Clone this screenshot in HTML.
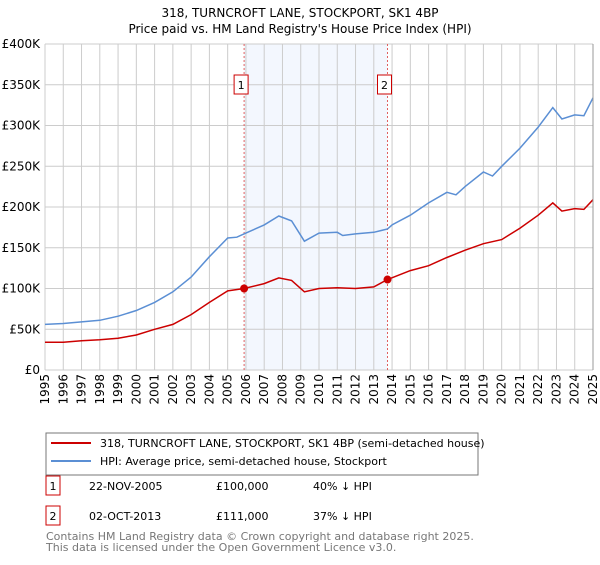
<!DOCTYPE html>
<html><head><meta charset="utf-8"><style>
body{margin:0;background:#fff;}
svg{font-family:"DejaVu Sans","Liberation Sans",sans-serif;}
</style></head><body>
<svg id="c" width="600" height="560" viewBox="0 0 600 560">
<text x="300" y="17" text-anchor="middle" font-size="12">318, TURNCROFT LANE, STOCKPORT, SK1 4BP</text>
<text x="300" y="33" text-anchor="middle" font-size="12">Price paid vs. HM Land Registry's House Price Index (HPI)</text>
<g id="plot"></g>
<g>
<rect x="46" y="433" width="432" height="42" fill="#fff" stroke="#777"/>
<line x1="51" y1="443" x2="91" y2="443" stroke="#cc0000" stroke-width="2"/>
<text x="100" y="447" font-size="11">318, TURNCROFT LANE, STOCKPORT, SK1 4BP (semi-detached house)</text>
<line x1="51" y1="461" x2="91" y2="461" stroke="#5b8fd4" stroke-width="2"/>
<text x="100" y="465" font-size="11">HPI: Average price, semi-detached house, Stockport</text>
</g>
<g font-size="11">
<rect x="46" y="476" width="14" height="19" fill="#fff" stroke="#cc0000"/>
<text x="53" y="490" text-anchor="middle">1</text>
<text x="89" y="490">22-NOV-2005</text><text x="216" y="490">£100,000</text><text x="313" y="490">40% ↓ HPI</text>
<rect x="46" y="506" width="14" height="19" fill="#fff" stroke="#cc0000"/>
<text x="53" y="520" text-anchor="middle">2</text>
<text x="89" y="520">02-OCT-2013</text><text x="216" y="520">£111,000</text><text x="313" y="520">37% ↓ HPI</text>
</g>
<text x="46" y="540" font-size="11" fill="#777">Contains HM Land Registry data © Crown copyright and database right 2025.</text>
<text x="46" y="551" font-size="11" fill="#777">This data is licensed under the Open Government Licence v3.0.</text>
</svg>
<script>
const hpiYears=[1995,1996,1997,1998,1999,2000,2001,2002,2003,2004,2005,2005.5,2006,2007,2007.8,2008.5,2009.2,2010,2011,2011.3,2012,2013,2013.75,2014,2015,2016,2017,2017.5,2018,2019,2019.5,2020,2021,2022,2022.8,2023.3,2024,2024.5,2025];
const hpiValues=[56,57,59,61,66,73,83,96,114,139,162,163,168,178,189,183,158,168,169,165,167,169,173,178,190,205,218,215,225,243,238,250,272,298,322,308,313,312,334];
const propYears=[1995,1996,1997,1998,1999,2000,2001,2002,2003,2004,2005,2005.9,2007,2007.8,2008.5,2009.2,2010,2011,2012,2013,2013.75,2015,2016,2017,2018,2019,2020,2021,2022,2022.8,2023.3,2024,2024.5,2025];
const propValues=[34,34,36,37,39,43,50,56,68,83,97,100,106,113,110,96,100,101,100,102,111,122,128,138,147,155,160,174,190,205,195,198,197,209];
const saleDates=[2005.9,2013.75];
const saleValues=[100,111];
const saleLabels=["1","2"];
const yTicks=[0,50,100,150,200,250,300,350,400];
const yTickLabels=["£0","£50K","£100K","£150K","£200K","£250K","£300K","£350K","£400K"];
const xTicks=[];for(let y=1995;y<=2025;y++)xTicks.push(y);
const X0=45,X1=593,Y0=370,Y1=44;
const xs=t=>X0+(t-1995)/30*(X1-X0);
const ys=v=>Y0-v/400*(Y0-Y1);
const NS="http://www.w3.org/2000/svg";
const g=document.getElementById('plot');
function mk(tag,attrs){const e=document.createElementNS(NS,tag);for(const k in attrs)e.setAttribute(k,attrs[k]);g.appendChild(e);return e;}
let e;
e=mk('rect',{x:xs(saleDates[0]),y:Y1,width:xs(saleDates[1])-xs(saleDates[0]),height:Y0-Y1,fill:'#eef3fd',opacity:0.7});


yTicks.forEach((v,i)=>{
 e=mk('line',{x1:X0,x2:X1,y1:ys(v),y2:ys(v),stroke:'#ccc'});
 
 
 e=mk('text',{x:X0-5,y:ys(v)+4,'text-anchor':'end','font-size':12});
 e.textContent=yTickLabels[i];
 
 
});
xTicks.forEach(t=>{
 e=mk('line',{x1:xs(t),x2:xs(t),y1:Y1,y2:Y0,stroke:'#ccc'});
 
 
 e=mk('text',{x:0,y:0,'text-anchor':'end','font-size':12,transform:`translate(${xs(t)+4},374) rotate(-90)`});
 e.textContent=t;
 
 
});
saleDates.forEach((d,i)=>{
 e=mk('line',{x1:xs(d),x2:xs(d),y1:Y1,y2:Y0,stroke:'#e06060','stroke-dasharray':'2,2'});
 
 
 e=mk('rect',{x:xs(d)-10,y:75,width:14,height:19,fill:'#fff',stroke:'#cc0000'});
 
 
 e=mk('text',{x:xs(d)-3,y:89,'text-anchor':'middle','font-size':11});
 e.textContent=saleLabels[i];
 
 
});
const path=(xa,va)=>xa.map((t,i)=>(i?'L':'M')+xs(t).toFixed(1)+','+ys(va[i]).toFixed(1)).join('');
e=mk('path',{d:path(hpiYears,hpiValues),fill:'none',stroke:'#5b8fd4','stroke-width':1.5});


e=mk('path',{d:path(propYears,propValues),fill:'none',stroke:'#cc0000','stroke-width':1.5});


saleDates.forEach((d,i)=>{
 e=mk('circle',{cx:xs(d),cy:ys(saleValues[i]),r:4,fill:'#cc0000'});
 
 
});
e=mk('line',{x1:X1,x2:X1,y1:Y1,y2:Y0,stroke:'#999'});


</script>
</body></html>
